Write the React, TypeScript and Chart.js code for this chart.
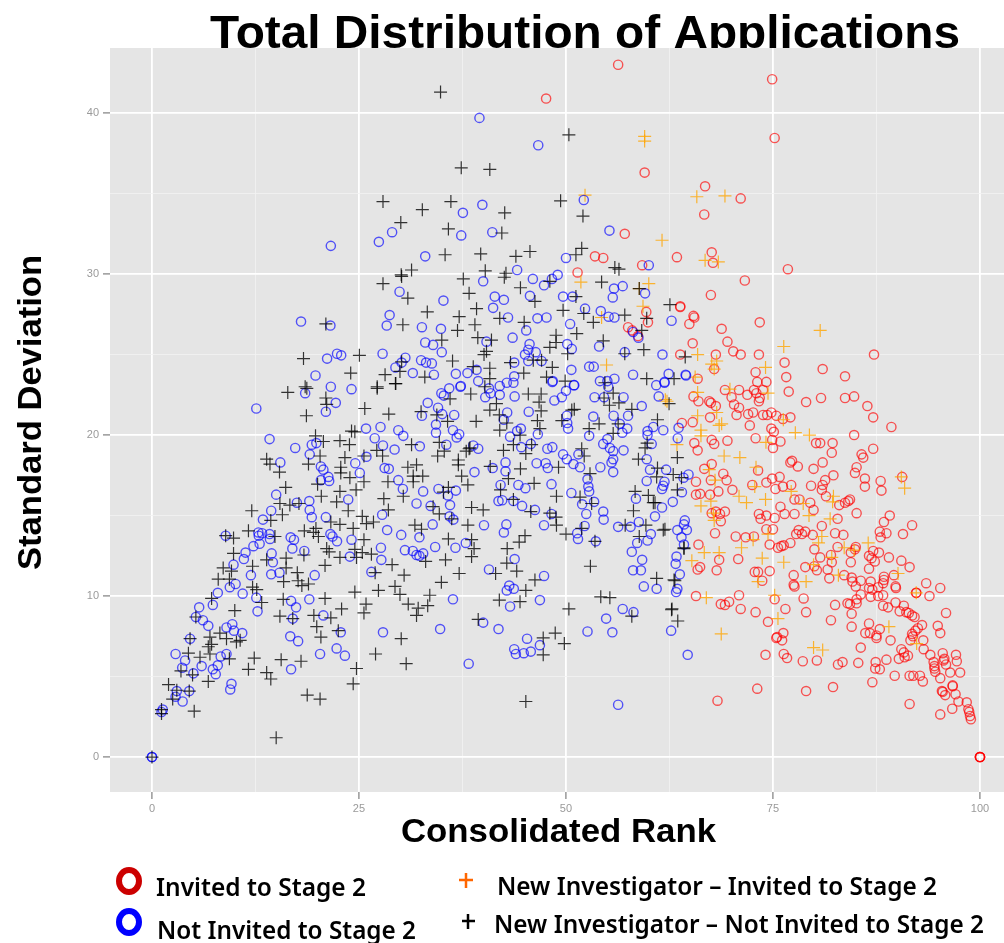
import React, { useEffect, useRef } from "react";
import { Chart, registerables } from "chart.js";

Chart.register(...registerables);

const chartTitle = "Total Distribution of Applications";
const xAxisTitle = "Consolidated Rank";
const yAxisTitle = "Standard Deviation";
const legendInvited = "Invited to Stage 2";
const legendNotInvited = "Not Invited to Stage 2";
const legendNewInvited = "New Investigator – Invited to Stage 2";
const legendNewNotInvited = "New Investigator – Not Invited to Stage 2";
const xTicks = [0, 12.5, 25, 37.5, 50, 62.5, 75, 87.5, 100];
const yTicks = [0, 5, 10, 15, 20, 25, 30, 35, 40];

const invited: number[][] = [
[56.3,43],[47.6,40.9],[74.9,42.1],[75.2,38.45],[59.5,36.3],[66.8,35.45],[66.7,33.7],[71.1,34.7],[57.1,32.5],[51.4,30.1],[53.5,31.1],[54.5,31],[59.2,30.55],[67.6,31.35],[67.75,30.7],[76.8,30.3],[71.6,29.6],[63.4,31.05],[67.5,28.7],[59.7,27.65],[59.9,27],[63.8,27.95],[73.4,27],[65.5,27.3],[57.5,26.7],[58,26.5],[58.7,26.15],
[63.8,28],[65.4,27.4],[64.9,26.9],[68.8,26.6],[65.3,25.7],[69.5,25.8],[70.2,25.2],[71.1,25],[73.3,25],[63.8,25],[68.1,25],[87.2,25],[67.9,24.1],[76.4,24.5],[81,24.1],[72.9,23.9],[65.9,23.5],[76.6,23.6],[83.7,23.65],[73.1,23.3],[74.2,23.3],[69.2,22.8],[70.9,22.8],[72.7,22.8],[73.8,22.8],[76.9,22.7],[71.9,22.5],[73,22.6],[65.4,22.4],[70,22.35],[73.4,22.3],[80.8,22.3],[83.7,22.3],[84.8,22.4],[66,22.1],[67.3,22.1],[67.5,22],[73.3,22.1],[79,22.05],[70.3,21.9],[68.1,21.8],[70.9,21.7],[86.4,21.8],[70.6,21.25],[72,21.3],[72.6,21.4],[73.8,21.25],[74.3,21.25],[74.8,21.4],[75.4,21.2],[76.2,21],[77.1,21.1],[87.1,21.1],[67.4,21.1],[65.3,20.8],[64,20.75],[72.2,20.6],[74.8,20.4],[75.1,20.2],[89.3,20.5],[84.8,20],[72.9,19.8],[67.6,19.7],[69.5,19.65],[74.9,19.7],[75.9,19.6],[65.5,19.5],[67.9,19.45],[80.2,19.5],[80.7,19.5],[82.2,19.5],[75,19.2],[65.9,19.05],[87.1,19.15],[85.7,18.8],[82.1,18.9],[85.9,18.6],[77.3,18.4],[77.1,18.3],[81,18.3],[78,18.05],[67.6,18.2],[85.1,18],[79.9,17.9],[66.7,17.9],[73.2,17.8],[69,17.6],[84.9,17.65],[82.3,17.5],[74.9,17.3],[75.8,17.4],[90.6,17.4],[86.1,17.3],[69.4,17.2],[67.5,17.2],[65.7,17.1],[81.3,17.2],[88,17.15],[74.2,17.05],[72.5,16.9],[76.2,16.8],[77.2,16.9],[79.6,16.85],[81,16.9],[86.1,16.8],[70.1,16.6],[75.3,16.65],[80.9,16.6],[88.1,16.55],[68.4,16.5],[66.2,16.35],[65.7,16.3],[67.4,16.3],[81.4,16.2],[77.6,16],[78.2,16],[79.5,15.8],[84.3,16],[84.1,15.9],[83.7,15.8],[83,15.65],[75.9,15.55],[79.9,15.35],[85.1,15.15],[69.2,15.25],[68.1,15.25],[68.6,15.1],[67.6,15.15],[73.3,15.1],[76.4,15.1],[77.6,15.1],[74.2,15],[73.5,14.8],[75.2,14.85],[82.8,14.8],[89.1,15],[68.7,14.65],[88.4,14.6],[91.8,14.4],[80.9,14.35],[74.2,14.15],[75,14.15],[78.1,14.1],[78.9,14],[77.8,13.85],[78.5,13.85],[79.8,13.8],[82.5,13.9],[83.5,13.8],[87.9,14],[88.7,13.9],[90.7,13.85],[88,13.65],[68,13.9],[70.5,13.7],[71.7,13.65],[72.7,13.7],[77.1,13.3],[74.6,13.2],[76.3,13.15],[76,13.1],[75.6,13],[66,13.2],[80,12.9],[82.8,13.05],[85,13.05],[84.9,12.9],[84.4,12.7],[87.1,12.8],[87.8,12.7],[86.6,12.5],[86.9,12.35],[87.3,12.15],[89,12.4],[90.5,12.2],[91.5,11.8],[82,12.55],[80.7,12.4],[82.1,12.1],[84.4,12.1],[68.5,12.25],[70.8,12.3],[66.2,11.8],[65.9,11.65],[68.2,11.6],[78.9,11.8],[80,11.85],[80.3,11.6],[81.6,11.65],[86.6,11.7],[72.8,11.5],[73.2,11.5],[74.6,11.55],[77.5,11.3],[73.7,10.95],[81.8,11.1],[83.6,11.3],[84.5,11.15],[84.6,10.9],[85.6,10.95],[86.8,10.9],[88.4,11.2],[88.4,11],[88.3,10.8],[89.6,11.3],[77.5,10.7],[77.6,10.6],[85,10.6],[86.6,10.5],[87.7,10.55],[87,10.4],[89.8,10.6],[89.85,10.5],[92.3,10.2],[92.3,10.2],[93.5,10.8],[95.2,10.5],[93.9,10],[65.7,10],[70.9,10.05],[75.2,9.8],[78.7,9.85],[85.6,10.1],[88.3,10.05],[87.7,10],[86.8,9.95],[85.1,9.8],[89.8,9.6],[68.7,9.5],[69.2,9.45],[69.7,9.65],[84,9.55],[84.3,9.5],[85.1,9.55],[82.5,9.45],[88.3,9.4],[88.9,9.3],[90.8,9.4],[71.1,9.2],[76.5,9.2],[72.9,9],[79,9],[90.3,9.05],[91.1,9],[91.4,8.95],[91.8,8.8],[92.1,8.7],[95.9,8.95],[84.5,8.9],[82,8.5],[74.4,8.4],[86.6,8.3],[93,8.2],[94.9,8.15],[84.5,8.1],[92.5,8],[92.2,7.85],[91.8,7.65],[87.9,7.95],[76.25,7.7],[86.15,7.7],[86.7,7.7],[87.5,7.55],[95.2,7.7],[75.4,7.4],[75.5,7.45],[76.1,7.25],[87.5,7.4],[89.2,7.25],[91.6,7.25],[93.15,7.25],[91.9,7.5],[85.6,6.8],[93.2,6.7],[90.5,6.7],[90.8,6.5],[91.3,6.3],[90.9,6.2],[90.2,6.1],[94,6.35],[95.5,6.45],[97.1,6.35],[95.7,6.1],[95.6,6],[97.2,5.95],[95.9,5.75],[94.4,5.9],[94.5,5.65],[94.5,5.5],[94.6,5.3],[96.4,5.25],[97.6,5.25],[74.1,6.35],[76.3,6.4],[76.7,6.15],[78.6,5.95],[80.3,6],[82.85,5.75],[83.4,5.9],[85.3,5.85],[87.4,5.9],[88.7,6.05],[87.35,5.5],[87.9,5.45],[89.7,5.05],[91.5,5.05],[91.95,5.05],[92.75,5.05],[93.1,4.7],[95.2,4.9],[87,4.65],[96.7,4.45],[96.7,4.4],[95.4,4.1],[95.5,4.05],[95.8,3.85],[97.05,3.9],[97.4,3.45],[98.4,3.4],[98.6,2.97],[98.7,2.8],[98.8,2.55],[98.9,2.35],[96.65,3],[95.2,2.65],[91.5,3.3],[73.1,4.25],[79,4.1],[82.25,4.35],[68.3,3.5],[100,0],[100,0],[100,0],[100,0]
];

const notInvited: number[][] = [
[12.6,21.65],[18.5,22.6],[21.6,23],[24.1,22.85],[22.2,22],[21,21.45],[14.2,19.75],[17.3,19.2],[19.3,19.4],[19.85,19.5],[19.05,18.8],[25.85,20.4],[27.6,20.5],[26.9,19.8],[27.9,19.35],[29.75,20.3],[30.35,19.95],[29.3,19.1],[15.5,18.3],[25.9,18.65],[24.55,18.25],[25.1,17.65],[20.4,18.05],[20.7,17.85],[21.3,17.4],[21.4,17.15],[20.4,17.2],[28.1,17.95],[28.6,17.9],[29.75,17.2],[30.3,16.65],[15,16.3],[23.7,16],[17.5,15.8],[19,15.9],[19.05,15.35],[14.4,15.3],[13.4,14.75],[19.3,14.9],[21,14.9],[27.8,15.05],[12.85,13.95],[8.9,13.75],[13.3,13.9],[12.9,13.75],[14.2,13.85],[14.25,13.55],[13,13.25],[12.25,13.1],[11.3,12.7],[11.1,12.3],[16.75,13.65],[17.15,13.5],[16.95,12.95],[18.4,12.8],[21.55,13.85],[21.8,13.7],[22.35,13.4],[24.1,13.5],[28.4,14.1],[30.1,13.8],[27.65,13],[27.7,12.25],[30.55,12.85],[23.9,12.45],[14.45,12.65],[14.6,12.1],[9.85,11.95],[11.95,11.3],[14.4,11.35],[15.4,11.45],[19.65,11.3],[26.5,11.5],[10.1,10.75],[9.4,10.55],[7.95,10.2],[10.95,10.15],[12.6,9.9],[16.8,9.7],[19,9.8],[17.4,9.3],[12.75,9.05],[7.35,9.45],[5.7,9.3],[5.3,8.7],[6.15,8.5],[6.8,8.15],[17,8.6],[20.7,8.8],[9.7,8.25],[9,8.05],[9.9,7.85],[10.9,7.7],[4.6,7.35],[22.8,7.75],[27.9,7.75],[16.7,7.5],[17.65,7.2],[2.85,6.4],[4,6],[9,6.4],[8.3,6.25],[20.3,6.4],[22.3,6.75],[23.3,6.3],[3.65,5.55],[6,5.65],[7.95,5.7],[7.35,5.45],[7.7,5.15],[5,5.2],[16.8,5.45],[9.6,4.55],[9.45,4.2],[3,4.1],[4.5,4.1],[2.85,3.75],[3.7,3.45],[1.3,2.95],[1.15,2.8],[0,0],[0,0],
[39.55,39.7],[46.65,38],[52.15,34.6],[39.9,34.3],[37.55,33.8],[41.1,32.6],[29,32.6],[27.4,32],[37.35,32.4],[21.6,31.75],[55.25,32.7],[33,31.1],[50,31],[44.1,30.25],[60,30.55],[40,29.55],[46,29.7],[49,29.95],[48.3,29.7],[47.35,29.3],[56.85,29.25],[55.8,29.1],[55.65,28.55],[59.55,28.8],[29.9,28.9],[41.4,28.6],[42.5,28.4],[45.65,28.65],[49.65,28.6],[50.8,28.6],[35.2,28.35],[41.2,27.9],[52.3,27.85],[54.2,27.7],[55.15,27.35],[55.85,27.3],[28.7,27.45],[28.35,26.8],[43,27.3],[46.55,27.25],[47.65,27.3],[18,27.05],[21.55,26.8],[32.6,26.7],[34.9,26.6],[45.2,26.5],[50.5,26.9],[58.1,26.4],[58.75,26.05],[43.55,26.05],[40.4,25.8],[33,25.75],[33.95,25.6],[35,25.15],[27.85,25.05],[45.6,25.65],[45.45,25.3],[50.15,25.65],[50.7,25.35],[54,25.5],[57.1,25.15],[22.35,25.05],[22.85,24.95],[21.15,24.75],[30.6,24.8],[30.15,24.5],[29.4,24.2],[32.5,24.65],[33.1,24.5],[33.8,24.45],[45.05,25],[46.35,25.15],[47.05,24.6],[45.45,24.6],[43.75,24.5],[52.8,24.25],[53.35,24.25],[50.65,24.05],[31.5,23.85],[34.05,23.75],[36.7,23.8],[38.1,23.85],[39.2,24.05],[19.75,23.7],[43.75,23.65],[58.1,23.75],[55.85,23.5],[54.1,23.35],[55,23.35],[48.4,23.35],[39.4,23.35],[37.3,23.05],[43.65,23.25],[42.85,23.25],[50.95,23.1],[42,23.05],[35.9,22.9],[40.7,22.9],[55.1,23],
[37.25,23],[34.95,22.6],[35.25,22.45],[40.25,22.35],[40.9,22.6],[42,22.5],[43.8,22.4],[48.6,22.15],[49.5,22.35],[50,22.75],[51,23.1],[48.35,23.3],[53.45,22.35],[54.6,22.35],[56.95,22.35],[60.9,23.1],[61.9,23.25],[61.2,22.4],[59.15,21.8],[33.3,22],[34.55,21.7],[32.6,21.2],[35.05,21.3],[36.5,21.25],[42.9,21.4],[45.5,21.45],[42.5,20.95],[50.1,21.2],[50.15,20.75],[50.25,20.4],[53.3,21.15],[55.75,21.2],[57.5,21.2],[56.5,20.7],[57.4,20.4],[56.8,20.15],[60.55,20.5],[59.85,20.25],[61.75,20.3],[63.6,20.45],[34.3,20.65],[34.3,20.15],[36.35,20.3],[37.1,20.05],[36.8,19.85],[44.1,20.25],[44.55,20.4],[46.6,20.05],[52.8,19.95],[59.85,20],[55,19.75],[54.5,19.45],[63.5,19.8],[60.35,19.45],[35.55,19.4],[32.35,19.3],[39.4,19.15],[38.8,19.35],[43.25,19.9],[44.6,19.25],[45.75,19.45],[47.75,19.15],[48.35,19.25],[55.3,19.2],[55.7,19],[56.95,19.05],[49.65,18.8],[50.1,18.5],[51.5,18.8],[50.9,18.2],[51.7,18],[46.45,18.25],[47.55,18.25],[47.8,17.95],[42.7,18.3],[42.7,17.75],[41.15,17.95],[38.95,17.7],[55.7,18.5],[55.5,18.3],[55.7,17.7],[54.15,18],[59.75,18.5],[60.15,17.85],[62.1,17.85],[52.6,17.25],[52.7,16.8],[52.8,16.5],[59.75,17.15],[61.9,17.1],[61.75,16.85],[61.6,16.65],[64.8,17.55],[64.2,17.35],[64,16.45],[32.75,16.5],[34.6,16.65],[36.7,16.55],[35.75,16.25],[42.1,16.9],[44.25,16.9],[45.1,16.7],[48.25,16.95],[50.65,16.4],[58.45,16.05],[62.9,15.85],[31.95,15.75],[33.65,15.6],[36,15.65],[41.85,15.9],[42.3,15.95],[43.65,15.9],[44.7,15.6],[46.25,15.35],[51.95,15.7],[53.4,15.85],[52.45,15.1],[54.5,15.25],[61.6,15.5],[48.25,15.1],[35.95,14.95],[36.4,14.75],[60.75,14.95],[54.55,14.75],[58.8,14.6],[64.35,14.7],[33.9,14.45],[40.1,14.4],[42.8,14.45],[47.35,14.4],[52.25,14.35],[56.3,14.3],[57.8,14.3],[64.25,14.45],[63.45,14.1],[64.6,14.1],[42.5,13.95],[32.3,13.65],[51.35,13.9],[51.45,13.55],[60.25,13.85],[63.95,13.65],[59.85,13.45],[58.6,13.3],[53.6,13.4],[64.25,13.2],[37.9,13.3],[34.2,13.05],[36.65,13],[31.5,12.8],[31.95,12.55],[32.3,12.5],[32.75,12.65],[57.95,12.75],[63.35,12.45],[43.8,12.3],[59.2,12.25],[63.25,12],[40.7,11.65],[58.1,11.6],[59.05,11.6],[63.75,11.35],[47.35,11.25],[43.15,10.65],[42.85,10.35],[43.7,10.45],[59.4,10.6],[60.95,10.45],[63.45,10.45],[63.3,10.25],[36.35,9.8],[46.85,9.75],[43.25,9.35],[56.85,9.2],[58.15,9],[54.85,8.6],[40,8.35],[34.8,7.95],[41.85,7.95],[52.6,7.8],[55.6,7.75],[62.7,7.85],[45.3,7.35],[46.85,6.95],[43.75,6.7],[43.95,6.4],[44.9,6.45],[45.75,6.55],[64.7,6.35],[38.25,5.8],[56.3,3.25],
[62.75,27.1],[61.65,25],[62.4,23.8],[64.45,23.75],[61.9,23.3],[64.5,23.7]
];

const newInvited: number[][] = [
[80.7,26.5],[76.3,25.5],[65.9,25],[68.2,24.6],[67.6,24.4],[67.9,24.1],[74.1,24.2],[65.6,23.6],[69.8,22.85],[65.9,22.65],[74.4,22.6],[62.2,22.1],[68.2,21.4],[65.9,21.2],[76.25,20.95],[68.5,20.6],[68.8,20.7],[66.3,20.3],[66.3,19.95],[77.7,20.15],[79.4,20],[74.15,19.55],[63.4,19.4],[69.1,18.7],[71,18.6],[72.95,18],[67.3,17.85],[68,17.2],[90.5,17.4],[90.9,16.7],[72.8,16.8],[77.2,16.5],[70.9,16.2],[71.8,15.8],[74.1,16],[67.5,15.9],[66.3,15.6],[82.2,15.85],[82.3,16.2],[78.65,15.75],[79.35,15],[81.9,14.8],[67.8,15.15],[67.9,14.7],[74.4,13.85],[72.6,13.5],[80.9,13.7],[80.5,13.3],[71.2,13],[66.7,12.7],[68.5,12.7],[83.6,13],[84.8,12.85],[86.5,13.3],[65.2,12.2],[73.7,12.35],[76.3,12.1],[82.1,12.4],[79.9,11.95],[82.9,11.3],[90.1,11.4],[73.2,10.9],[79,10.9],[92.3,10.2],[66.95,9.9],[75.2,10.05],[75.6,8.6],[89,8.1],[68.75,7.65],[92.35,7.05],[79.9,6.8],[81,6.65],
[59.5,38.55],[59.5,38.26],[52.3,34.9],[51.8,29.5],[54.9,24.35],[60,29.4],[59.3,28],[58.85,29.1],[54.3,27.3],[65.8,34.8],[69.2,34.85],[61.6,32.1],[66.8,30.85],[68.4,30.75],[62,22.2]
];

const newNotInvited: number[][] = [
[16.4,22.65],[18.7,22.9],[21,22.3],[21.1,21.9],[27.2,22.9],[29.4,23.2],[25.7,21.65],[28.6,21.3],[18.65,21.2],[19.75,19.95],[20.7,19.6],[22.7,19.65],[24.1,20.25],[24.5,20.2],[23.85,19.4],[27.15,19.05],[13.85,18.5],[14.25,18.2],[18.9,18.2],[20.3,18.7],[23.3,18.6],[25.6,18.7],[27.85,18.7],[22.8,18],[22.8,17.65],[23.9,17.35],[15.4,17.7],[20,16.95],[25.6,17.1],[28.5,17.1],[30.9,18],[16.15,16.75],[22.7,16.5],[24.65,16.6],[20.45,16.2],[30.35,16.2],[28,16.05],[15.45,15.75],[16.65,15.65],[17.75,15.75],[22.3,15.85],[12.05,15.3],[15.75,15.05],[28.55,15.35],[23.7,15.3],[14.35,14.7],[21.6,14.6],[25.4,14.95],[26.75,14.6],[25.9,14.5],[22.7,14.45],[11.65,14.05],[18.4,14.05],[19.8,14.2],[19.5,13.95],[24.3,14.2],[8.9,13.75],[9.85,13.6],[20.1,13.7],[14.85,13.7],[25.6,13.5],[21.1,12.95],[21.4,12.75],[24.5,12.9],[25.4,12.7],[9.85,12.65],[18.35,12.55],[22.7,12.4],[24.7,12.4],[26.5,12.6],[13.85,12.25],[16.2,12.35],[12.15,11.85],[20.9,11.9],[29,11.95],[8.6,11.75],[9.6,11.55],[16.2,11.75],[17.55,11.45],[26.95,11.45],[30.45,11.3],[8,11.05],[9.35,11.05],[15.9,10.9],[17.65,10.95],[18.9,10.75],[18.1,10.65],[29.35,10.6],[12.15,10.55],[12.65,10.4],[24.5,10.25],[27.35,10.35],[29.95,10.1],[7.2,9.85],[15.85,9.8],[20.9,9.85],[10,9.1],[13.25,9.6],[25.85,9.5],[30.95,9.5],[22.9,9.2],[15.45,8.75],[19.55,8.8],[21.6,8.65],[25.6,8.95],[5.3,8.7],[17,8.6],[19.9,8.1],[22.5,7.85],[4.6,7.35],[7,7.45],[8.2,7.7],[9,7.35],[10.2,7.15],[10.65,7.25],[7.2,7],[6.8,6.85],[20.4,7.45],[30.1,7.35],[4.4,6.45],[5.8,6.2],[7,6.4],[9.35,6.1],[27,6.4],[12.35,6.15],[15.6,6.05],[18,5.95],[30.7,5.8],[24.7,5.5],[11.65,5.45],[13.85,5.25],[14.35,4.85],[3.5,5.35],[4.9,5.1],[6.8,4.7],[24.3,4.55],[2,4.5],[3,4.15],[4.5,4.1],[2.5,3.6],[1.15,2.95],[1.15,2.7],[5.1,2.85],[18.75,3.85],[20.3,3.6],[15,1.2],[0,0],
[34.85,41.3],[50.35,38.65],[37.35,36.6],[40.8,36.5],[27.9,34.5],[36.1,34.5],[49.35,34.55],[32.65,34],[42.6,33.8],[52.05,33.6],[30.05,33.2],[35.8,32.8],[42.25,32.55],[35.4,31.2],[39.7,31.25],[43.95,31.1],[45.65,31.4],[51.9,31.6],[51.2,31.2],[55.9,30.4],[56.4,30.3],[31.35,30.25],[30.1,29.95],[30.15,29.85],[40.25,30.2],[42.75,30.05],[42.55,29.8],[37.6,29.7],[54.3,29.5],[48.05,29.55],[27.9,29.4],[44.5,29.15],[38.3,28.8],[58.85,29.1],[30.9,28.5],[46.25,28.3],[51.2,28.6],[39.2,27.85],[33.25,27.65],[49.65,27.75],[57.1,27.45],[52.15,27.55],[59.75,27.25],[37.1,27.35],[42,27.25],[21,26.9],[30.3,26.85],[39,26.85],[44.95,27],[53.3,27],[36.9,26.5],[48.8,26.2],[51.3,26.3],[59.15,26.5],[39.35,26.05],[41,25.9],[35,25.9],[48.8,25.75],[48.05,25.45],[54.5,25.85],[59.4,25.3],[40.4,25.2],[40.1,25],[50.2,25.05],[25.05,24.95],[57.1,25.05],[18.3,24.75],[36.3,24.6],[40.8,24.15],[43.3,24.5],[46.05,24.65],[47.05,24.65],[38.8,24.25],[48.35,24.2],[24,23.85],[32.95,23.6],[28.15,23.75],[29.95,23.95],[30.15,24.55],[44.9,23.85],[47.65,23.6],[59.75,23.5],[29.45,23.2],[49.9,23.35],[54.7,23.25],[40.8,23.5],[27.2,23],[18.5,23],[40.2,23],
[38.5,22.55],[36,22.25],[45.45,22.55],[47,22.55],[46.75,22.05],[41.6,21.95],[54.6,22.3],[55.7,22.6],[55.25,21.85],[56.4,22],[51,21.6],[50.7,21.55],[57.95,21.6],[62.45,21.95],[40.8,21.55],[47,21.5],[32.5,21.45],[34.4,21.25],[41.95,21.25],[35.7,20.85],[39.15,20.85],[46.55,20.9],[49.5,20.9],[61.05,20.95],[42.85,20.75],[54,20.7],[56.3,20.7],[52.8,20.4],[46.85,20.4],[42,20.3],[55.7,20.1],[44.45,20],[34.7,19.55],[31.35,19.4],[43.65,19.4],[45.85,19.4],[59.8,19.5],[42.45,19.05],[59.55,19.2],[35.3,19],[38.3,19.15],[38.4,19.2],[37.95,19],[51.9,19.15],[45.15,18.85],[34.5,18.7],[52.2,18.7],[58.75,18.5],[63.45,18.6],[37,18.45],[37,18.15],[31.95,18.15],[40.85,18.05],[49.1,18],[44.5,17.9],[61.05,17.95],[52.9,17.6],[31.55,17.45],[32.7,17.45],[37.4,17.45],[43.05,17.3],[62.95,17.55],[63.95,17.35],[60.95,17.4],[31.55,17.1],[46.15,17],[38.15,16.9],[35.8,16.75],[35.2,16.45],[42.1,16.6],[63.45,16.6],[58.35,16.5],[48.85,16.2],[59.95,16.25],[51.7,16.15],[43.65,16],[60.55,15.8],[60.75,15.8],[53.1,15.75],[38.6,15.5],[33.95,15.55],[40,15.35],[58.15,15.3],[34.7,15.1],[45.75,15.25],[48.05,15.15],[48.8,14.9],[36.2,14.8],[31.75,14.4],[32.55,14.15],[38.15,14.4],[48.85,14.4],[57.15,14.4],[59.65,14.4],[61.75,14.1],[61.95,14.15],[51.9,14.2],[50,13.85],[45.05,13.75],[35.8,13.55],[38.6,13.5],[58.85,13.7],[44.35,13.35],[38.9,12.95],[42.9,12.95],[64.25,12.95],[53.5,13.4],[33.05,12.15],[35.45,12.25],[38.6,12.45],[42.85,12.05],[52.95,11.85],[37.1,11.4],[44.05,11.55],[41.5,11.4],[60.95,11.1],[63.15,10.95],[46.25,11],[34.95,10.85],[45.15,10.35],[33.55,10.05],[54.2,9.95],[55.3,9.9],[41.95,9.75],[44.45,9.65],[33.3,9.4],[32.15,9.25],[50.35,9.2],[62.8,9.2],[31.95,8.8],[57.95,8.75],[39.4,8.55],[63.5,8.45],[48.7,7.7],[47.25,7.4],[49.8,7.05],[47.25,6.35],[45.15,3.45],
[64.4,24.85],[63.05,23.5],[64.25,13],[63.05,11],[62.55,28.1],[62.75,9.15]
];

const toPoints = (rows: number[][]) => rows.map(([x, y]) => ({ x, y }));

function drawText(c: CanvasRenderingContext2D, text: string, x: number, y: number, font: string, width: number) {
  c.font = font;
  c.fillStyle = "#000";
  c.textAlign = "left";
  c.textBaseline = "alphabetic";
  const natural = c.measureText(text).width;
  c.save();
  c.translate(x, y);
  c.scale(width / natural, 1);
  c.fillText(text, 0, 0);
  c.restore();
}

const decorations = {
  id: "decorations",
  beforeDraw(chart: any) {
    const c: CanvasRenderingContext2D = chart.ctx;
    const a = chart.chartArea;
    c.save();
    c.fillStyle = "#fff";
    c.fillRect(0, 0, chart.width, chart.height);
    drawText(c, chartTitle, 210, 48, 'bold 47px "Liberation Sans"', 750);
    c.fillStyle = "#e5e5e5";
    c.fillRect(a.left, a.top, a.right - a.left, a.bottom - a.top);
    c.restore();
  },
  afterDraw(chart: any) {
    const c: CanvasRenderingContext2D = chart.ctx;
    c.save();
    c.translate(41, 570);
    c.rotate(-Math.PI / 2);
    drawText(c, yAxisTitle, 0, 0, 'bold 34px "Liberation Sans"', 315);
    c.restore();
    c.save();
    drawText(c, xAxisTitle, 401, 842, 'bold 34px "Liberation Sans"', 315);
    const legendFont = '600 26px "Noto Sans"';
    drawText(c, legendInvited, 156, 896, legendFont, 210);
    drawText(c, legendNotInvited, 157, 939, legendFont, 259);
    drawText(c, legendNewInvited, 497, 895, legendFont, 440);
    drawText(c, legendNewNotInvited, 494, 933, legendFont, 490);
    c.lineWidth = 6;
    c.strokeStyle = "#cc0000";
    c.beginPath();
    c.ellipse(129, 881, 10, 11, 0, 0, Math.PI * 2);
    c.stroke();
    c.strokeStyle = "#0000ff";
    c.beginPath();
    c.ellipse(129, 922, 10, 11, 0, 0, Math.PI * 2);
    c.stroke();
    c.lineWidth = 2.5;
    c.strokeStyle = "#ff6600";
    c.beginPath();
    c.moveTo(459, 880); c.lineTo(473, 880); c.moveTo(466, 873); c.lineTo(466, 888);
    c.stroke();
    c.strokeStyle = "#000";
    c.beginPath();
    c.moveTo(462, 921); c.lineTo(475, 921); c.moveTo(468, 914); c.lineTo(468, 929);
    c.stroke();
    c.restore();
  },
};

const axisGrid = (isMajor: (v: number) => boolean) => ({
  color: (ctx: any) => (isMajor(ctx.tick.value) ? "#ffffff" : "#f2f2f2"),
  lineWidth: (ctx: any) => (isMajor(ctx.tick.value) ? 1.8 : 0.8),
  tickColor: (ctx: any) => (isMajor(ctx.tick.value) ? "#7f7f7f" : "rgba(0,0,0,0)"),
  tickWidth: 1.2,
  tickLength: 7,
});

export default function App() {
  const ref = useRef<HTMLCanvasElement>(null);
  useEffect(() => {
    if (!ref.current) return;
    const xMajor = (v: number) => v % 25 === 0;
    const yMajor = (v: number) => v % 10 === 0;
    const circle = (label: string, rows: number[][], color: string) => ({
      label, data: toPoints(rows), pointStyle: "circle", pointRadius: 4.6, pointBorderWidth: 1.4,
      pointBorderColor: color, pointBackgroundColor: "rgba(0,0,0,0)", showLine: false,
    });
    const cross = (label: string, rows: number[][], color: string) => ({
      label, data: toPoints(rows), pointStyle: "cross", pointRadius: 6.5, pointBorderWidth: 1.2,
      pointBorderColor: color, pointBackgroundColor: color, showLine: false,
    });
    const chart = new Chart(ref.current, {
      type: "scatter",
      data: {
        datasets: [
          cross(legendNewNotInvited, newNotInvited, "rgba(0,0,0,0.78)"),
          circle(legendNotInvited, notInvited, "rgba(0,0,255,0.65)"),
          cross(legendNewInvited, newInvited, "rgba(255,165,0,0.8)"),
          circle(legendInvited, invited, "rgba(255,0,0,0.65)"),
        ] as any,
      },
      plugins: [decorations],
      options: {
        animation: false,
        responsive: false,
        devicePixelRatio: 1,
        layout: { autoPadding: false, padding: { top: 48, left: 0, right: 0, bottom: 0 } },
        plugins: { legend: { display: false }, tooltip: { enabled: false }, title: { display: false } },
        scales: {
          x: {
            type: "linear",
            min: -5.07,
            max: 102.9,
            afterBuildTicks: (s: any) => { s.ticks = xTicks.map((value) => ({ value })); },
            afterFit: (s: any) => { s.height = 151; },
            border: { display: false },
            grid: axisGrid(xMajor),
            ticks: {
              autoSkip: false, maxRotation: 0, padding: 3, color: "#9a9a9a",
              font: { family: "Liberation Sans", size: 11 },
              callback: (v: any) => (xMajor(Number(v)) ? String(v) : ""),
            },
          },
          y: {
            type: "linear",
            min: -2.17,
            max: 44.04,
            afterBuildTicks: (s: any) => { s.ticks = yTicks.map((value) => ({ value })); },
            afterFit: (s: any) => { s.width = 110; },
            border: { display: false },
            grid: axisGrid(yMajor),
            ticks: {
              autoSkip: false, padding: 4, color: "#9a9a9a",
              font: { family: "Liberation Sans", size: 11 },
              callback: (v: any) => (yMajor(Number(v)) ? String(v) : ""),
            },
          },
        },
      } as any,
    });
    return () => chart.destroy();
  }, []);
  return (
    <canvas
      ref={ref}
      width={1004}
      height={943}
      style={{ position: "absolute", left: 0, top: 0, width: 1004, height: 943, display: "block" }}
    />
  );
}
